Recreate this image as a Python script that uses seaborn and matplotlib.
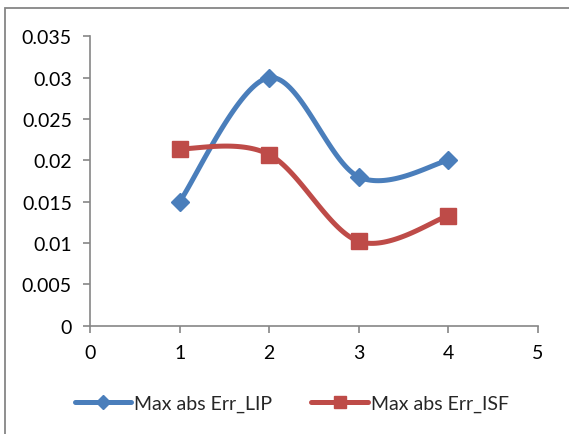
import numpy as np
import matplotlib
matplotlib.use("Agg")
import matplotlib.pyplot as plt
from matplotlib.patches import Rectangle
from matplotlib.lines import Line2D
import seaborn as sns
import pandas as pd

# Data
x_vals = [1, 2, 3, 4]
err_lip = [0.015, 0.030, 0.018, 0.020]
err_isf = [0.0214, 0.0207, 0.0102, 0.0133]
series_names = ["Max abs Err_LIP", "Max abs Err_ISF"]
y_ticks = [0, 0.005, 0.01, 0.015, 0.02, 0.025, 0.03, 0.035]
y_tick_labels = ["0", "0.005", "0.01", "0.015", "0.02", "0.025", "0.03", "0.035"]
x_ticks = [0, 1, 2, 3, 4, 5]

BLUE = "#4a7ebb"
RED = "#be4b48"
AXIS = "#868686"

sns.set_style("white")
plt.rcParams["font.family"] = ["Lato", "DejaVu Sans"]


def smooth_curve(xs, ys, n=40):
    """Cubic Bezier smoothing through every point (Catmull-Rom style)."""
    xs = np.asarray(xs, float)
    ys = np.asarray(ys, float)
    px = np.concatenate([[xs[0]], xs, [xs[-1]]])
    py = np.concatenate([[ys[0]], ys, [ys[-1]]])
    out_x, out_y = [], []
    t = np.linspace(0, 1, n)
    for i in range(1, len(px) - 2):
        p0 = np.array([px[i], py[i]])
        p3 = np.array([px[i + 1], py[i + 1]])
        c1 = p0 + (np.array([px[i + 1], py[i + 1]]) - np.array([px[i - 1], py[i - 1]])) / 6
        c2 = p3 - (np.array([px[i + 2], py[i + 2]]) - np.array([px[i], py[i]])) / 6
        b = ((1 - t) ** 3)[:, None] * p0 + (3 * (1 - t) ** 2 * t)[:, None] * c1 \
            + (3 * (1 - t) * t ** 2)[:, None] * c2 + (t ** 3)[:, None] * p3
        out_x.extend(b[:, 0])
        out_y.extend(b[:, 1])
    return np.array(out_x), np.array(out_y)


fig = plt.figure(figsize=(5.69, 4.35), dpi=100)
ax = fig.add_axes([90 / 569, 1 - 326.7 / 435, 448 / 569, 289.4 / 435])

# Chart frame
fig.patches.append(Rectangle((4.5 / 569, -0.1), 1.2, 1 - 8.5 / 435 + 0.1,
                             transform=fig.transFigure, fill=False,
                             edgecolor=AXIS, linewidth=1.3))

for vals, color, marker, ms in [(err_lip, BLUE, "D", 9), (err_isf, RED, "s", 11)]:
    sx, sy = smooth_curve(x_vals, vals)
    df = pd.DataFrame({"x": sx, "y": sy, "i": np.arange(len(sx))})
    sns.lineplot(data=df, x="x", y="y", sort=False, estimator=None, ax=ax,
                 color=color, linewidth=3.6, zorder=2)
    ax.plot(x_vals, vals, linestyle="none", marker=marker, markersize=ms,
            color=color, markeredgecolor=color, zorder=3)

ax.set_xlim(0, 5)
ax.set_ylim(0, 0.035)
ax.set_xticks(x_ticks)
ax.set_xticklabels([str(v) for v in x_ticks])
ax.set_yticks(y_ticks)
ax.set_yticklabels(y_tick_labels)
ax.set_xlabel("")
ax.set_ylabel("")

for side in ["top", "right"]:
    ax.spines[side].set_visible(False)
for side in ["left", "bottom"]:
    ax.spines[side].set_color(AXIS)
    ax.spines[side].set_linewidth(1.2)
ax.tick_params(axis="both", which="major", direction="out", length=5,
               width=1.2, color=AXIS, labelsize=14, labelcolor="black",
               left=True, bottom=True)
ax.tick_params(axis="y", pad=8)
ax.tick_params(axis="x", pad=8)

handles = [
    Line2D([0], [0], color=BLUE, linewidth=3.6, marker="D", markersize=7),
    Line2D([0], [0], color=RED, linewidth=3.6, marker="s", markersize=9),
]
fig.legend(handles, series_names, loc="center", bbox_to_anchor=(0.513, 1 - 404 / 435),
           ncol=2, frameon=False, fontsize=14, handlelength=2.9,
           handletextpad=0.15, columnspacing=2.0)

fig.savefig("out.png", dpi=100)
